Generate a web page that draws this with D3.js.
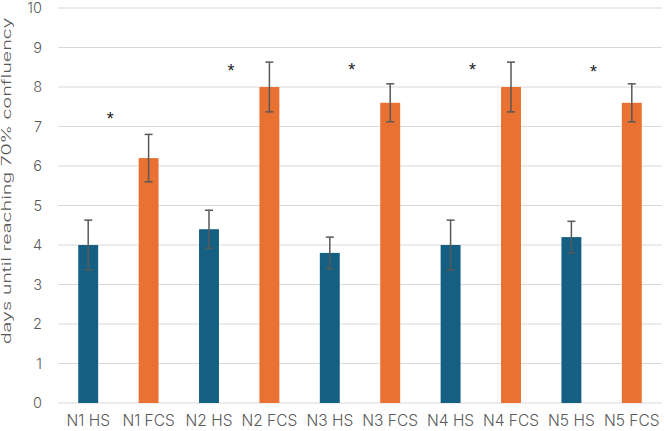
<!DOCTYPE html>
<html>
<head>
<meta charset="utf-8">
<script src="https://cdn.jsdelivr.net/npm/d3@7"></script>
<style>
  body { margin: 0; background: #fff; }
  text { font-family: Inter, "Open Sans", sans-serif; }
</style>
</head>
<body>
<div id="chart"></div>
<script>
const categories = ['N1 HS', 'N1 FCS', 'N2 HS', 'N2 FCS', 'N3 HS', 'N3 FCS', 'N4 HS', 'N4 FCS', 'N5 HS', 'N5 FCS'];
const values = [4, 6.2, 4.4, 8, 3.8, 7.6, 4, 8, 4.2, 7.6];
const errors = [0.63, 0.6, 0.48, 0.63, 0.4, 0.48, 0.63, 0.63, 0.4, 0.48];
const groups = ['HS', 'FCS', 'HS', 'FCS', 'HS', 'FCS', 'HS', 'FCS', 'HS', 'FCS'];
const yTicks = [0, 1, 2, 3, 4, 5, 6, 7, 8, 9, 10];
// asterisks: attached to the HS bar of each pair, at this height
const starCats = ['N1 HS', 'N2 HS', 'N3 HS', 'N4 HS', 'N5 HS'];
const starLevels = [7.3, 8.51, 8.53, 8.53, 8.48];
const yTitle = 'days until reaching 70% confluency';

const width = 664, height = 431;
const margin = { top: 8, right: 2, bottom: 28, left: 58 };
const innerW = width - margin.left - margin.right;
const innerH = height - margin.top - margin.bottom;

const colors = { HS: '#156082', FCS: '#E97132' };

const svg = d3.select('#chart').append('svg')
  .attr('width', width)
  .attr('height', height);

const g = svg.append('g')
  .attr('transform', 'translate(' + margin.left + ',' + margin.top + ')');

const x = d3.scaleBand()
  .domain(categories)
  .range([0, innerW])
  .paddingInner(0.67)
  .paddingOuter(0.335);

const y = d3.scaleLinear()
  .domain([0, 10])
  .range([innerH, 0]);

// gridlines
g.append('g')
  .selectAll('line')
  .data(yTicks)
  .enter().append('line')
  .attr('x1', 0)
  .attr('x2', innerW)
  .attr('y1', d => y(d))
  .attr('y2', d => y(d))
  .attr('stroke', '#d9d9d9')
  .attr('stroke-width', 1);

// y axis labels
const yAxis = g.append('g')
  .call(d3.axisLeft(y).tickValues(yTicks).tickSize(0).tickPadding(16));
yAxis.select('.domain').remove();
yAxis.selectAll('text')
  .attr('font-size', 14.5)
  .attr('fill', '#595959')
  .style('font-family', 'Inter, sans-serif')
  .style('font-weight', 300);

// x axis labels
const xAxis = g.append('g')
  .attr('transform', 'translate(0,' + innerH + ')')
  .call(d3.axisBottom(x).tickSize(0).tickPadding(12));
xAxis.select('.domain').remove();
xAxis.selectAll('text')
  .attr('font-size', 15.5)
  .attr('fill', '#595959')
  .style('font-family', 'Inter, sans-serif')
  .style('font-weight', 300);

// bars
g.selectAll('.bar')
  .data(categories)
  .enter().append('rect')
  .attr('class', 'bar')
  .attr('x', d => x(d))
  .attr('width', x.bandwidth())
  .attr('y', (d, i) => y(values[i]))
  .attr('height', (d, i) => innerH - y(values[i]))
  .attr('fill', (d, i) => colors[groups[i]]);

// error bars
const eb = g.selectAll('.err')
  .data(categories)
  .enter().append('g')
  .attr('class', 'err')
  .attr('stroke', '#595959')
  .attr('stroke-width', 1.5);

eb.append('line')
  .attr('x1', d => x(d) + x.bandwidth() / 2)
  .attr('x2', d => x(d) + x.bandwidth() / 2)
  .attr('y1', (d, i) => y(values[i] + errors[i]))
  .attr('y2', (d, i) => y(values[i] - errors[i]));

[1, -1].forEach(s => {
  eb.append('line')
    .attr('x1', d => x(d) + x.bandwidth() / 2 - 4)
    .attr('x2', d => x(d) + x.bandwidth() / 2 + 4)
    .attr('y1', (d, i) => y(values[i] + s * errors[i]))
    .attr('y2', (d, i) => y(values[i] + s * errors[i]));
});

// asterisks
g.selectAll('.star')
  .data(starCats)
  .enter().append('text')
  .attr('class', 'star')
  .attr('x', d => x(d) + x.bandwidth() / 2 + 22)
  .attr('y', (d, i) => y(starLevels[i]) + 10)
  .attr('text-anchor', 'middle')
  .attr('font-size', 18)
  .attr('fill', '#222')
  .style('font-family', '"Liberation Sans", sans-serif')
  .text('*');

// y title
const title = svg.append('text')
  .attr('text-anchor', 'middle')
  .attr('font-size', 15)
  .attr('fill', '#595959')
  .style('font-weight', 300)
  .text(yTitle);
const tLen = title.node().getComputedTextLength();
title.attr('transform', 'translate(11,181) rotate(-90) scale(' + (327 / tLen) + ',0.85)');
</script>
</body>
</html>
